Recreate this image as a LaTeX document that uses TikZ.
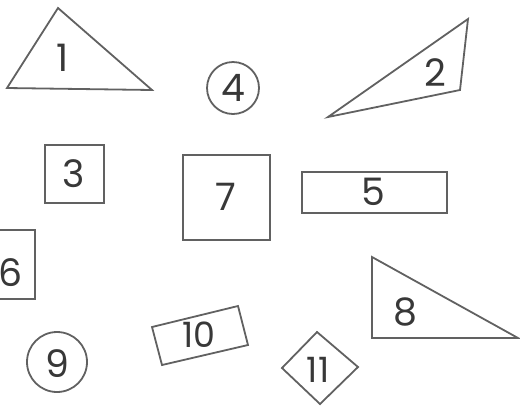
\documentclass[tikz,border=0pt]{standalone}
\usepackage{fontspec}
\setmainfont{Poppins}
\begin{document}
\begin{tikzpicture}[x=1bp,y=-1bp,
  shape line/.style={draw=black!62, line width=1.8bp, line join=miter},
  num/.style={text=black!78, font=\fontsize{38}{38}\selectfont, inner sep=0pt}]
\useasboundingbox (0,0) rectangle (520,405);
\clip (0,0) rectangle (520,405);
% 1 triangle
\draw[shape line] (58,8) -- (7,88) -- (152,90) -- cycle;
\node[num] (l1) at (63,58) {1};
% 2 triangle
\draw[shape line] (328,117) -- (468,19) -- (460,90) -- cycle;
\node[num] (l2) at (435,73) {2};
% 3 square
\draw[shape line] (45,145) rectangle (104,203);
\node[num] (l3) at (74,174) {3};
% 4 circle
\draw[shape line] (233,88) circle (26);
\node[num] (l4) at (233,88) {4};
% 5 rectangle
\draw[shape line] (302,172) rectangle (447,213);
\node[num] (l5) at (373,192) {5};
% 6 rectangle
\draw[shape line] (-10,230) rectangle (35,299);
\node[num] (l6) at (11,273) {6};
% 7 square
\draw[shape line] (183,155) rectangle (270,240);
\node[num] (l7) at (226,197) {7};
% 8 triangle
\draw[shape line] (372,257) -- (372,338) -- (518,338) -- cycle;
\node[num] (l8) at (405,312) {8};
% 9 circle
\draw[shape line] (57,362) circle (30);
\node[num] (l9) at (57,364) {9};
% 10 rotated rectangle
\draw[shape line] (152,327) -- (238,306) -- (248,345) -- (162,365) -- cycle;
\node[num, font=\fontsize{35}{35}\selectfont] (l10) at (199,335) {10};
% 11 diamond
\draw[shape line] (317,332) -- (358,367) -- (320,404) -- (282,368) -- cycle;
\node[num, font=\fontsize{35}{35}\selectfont] (l11) at (318,370) {11};
\end{tikzpicture}
\end{document}
